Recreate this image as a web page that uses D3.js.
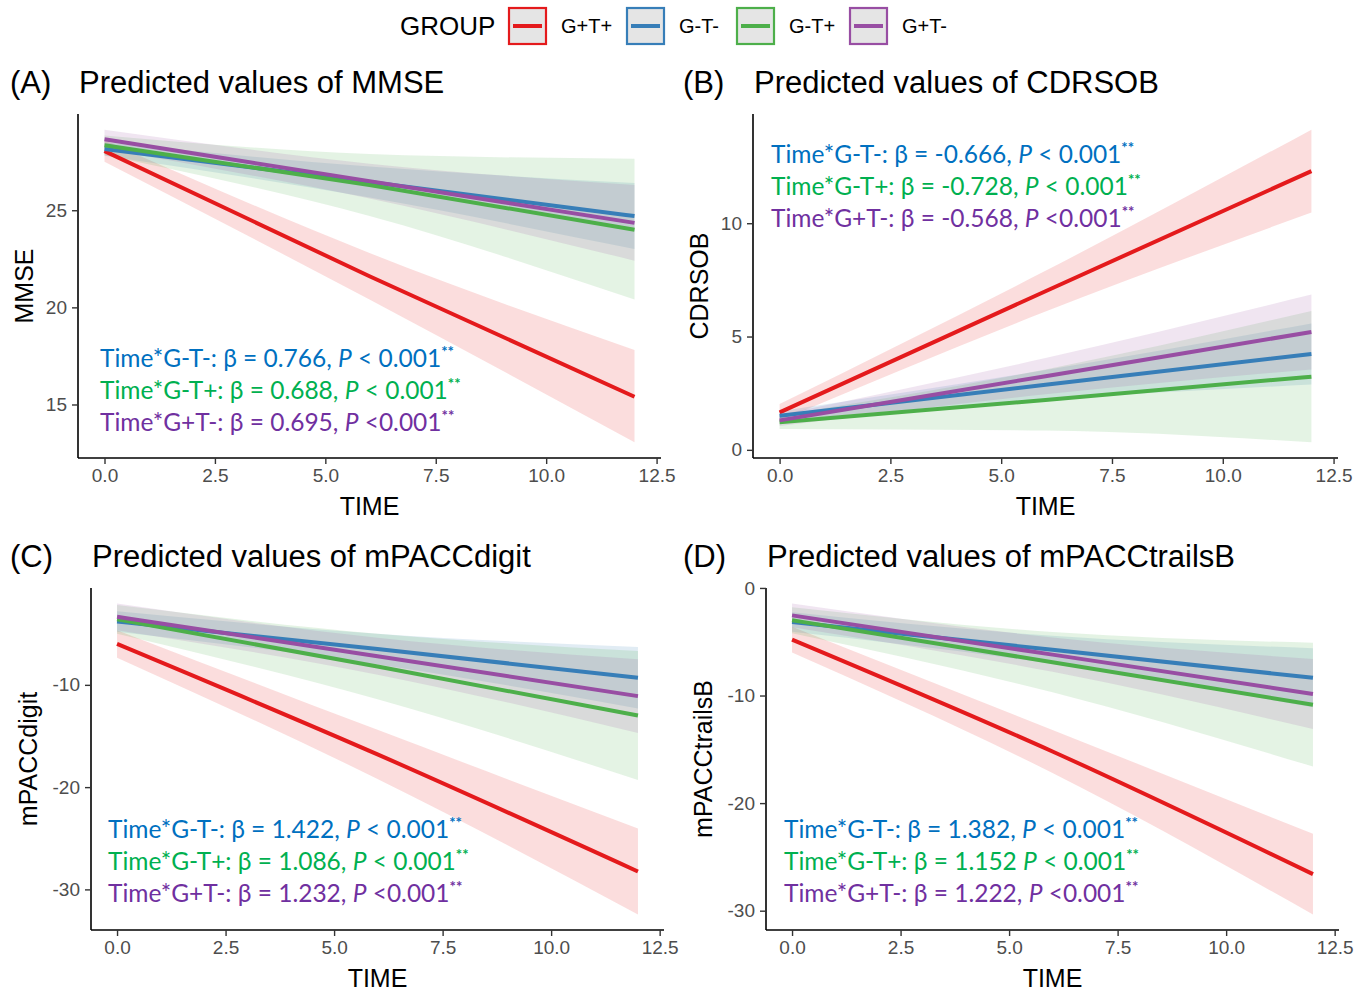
<!DOCTYPE html>
<html>
<head>
<meta charset="utf-8">
<script src="https://cdn.jsdelivr.net/npm/d3@7"></script>
<style>
  body { margin: 0; background: #fff; }
  svg { display: block; font-family: 'Liberation Sans', Arial, sans-serif; }
  .tick text { font-size: 19px; fill: #4d4d4d; }
  .note { font-family: Lato, 'Open Sans', sans-serif; font-size: 24.5px; }
</style>
</head>
<body>
<svg width="1367" height="992"></svg>
<script>
const groups = ['G+T+', 'G-T-', 'G-T+', 'G+T-']
const lineColors = ['#e41a1c', '#377eb8', '#4daf4a', '#984ea3']
const times = [0, 6, 12]
const xTicks = [0, 2.5, 5, 7.5, 10, 12.5]

// MMSE (rows follow groups, columns follow times)
const mmseFit = [[28.05, 21.6, 15.4], [28.15, 26.45, 24.7], [28.35, 26.3, 24.0], [28.65, 26.5, 24.35]]
const mmseLow = [[27.5, 20.4, 13.05], [27.8, 25.65, 23.0], [27.85, 24.7, 20.4], [28.15, 25.6, 22.4]]
const mmseHigh = [[28.6, 22.8, 17.8], [28.5, 27.25, 26.4], [28.85, 27.9, 27.65], [29.15, 27.4, 26.3]]
const mmseTicks = [15, 20, 25]

// CDRSOB
const cdrFit = [[1.65, 7.0, 12.3], [1.5, 2.87, 4.23], [1.22, 2.2, 3.23], [1.3, 3.25, 5.2]]
const cdrLow = [[1.28, 6.1, 10.47], [1.3, 2.22, 2.88], [0.92, 0.85, 0.33], [1.05, 2.45, 3.55]]
const cdrHigh = [[2.02, 7.9, 14.13], [1.7, 3.52, 5.58], [1.52, 3.55, 6.13], [1.55, 4.05, 6.85]]
const cdrTicks = [0, 5, 10]

// mPACCdigit
const digitFit = [[-6.0, -16.8, -28.25], [-3.8, -6.5, -9.3], [-3.6, -8.2, -13.0], [-3.35, -7.2, -11.1]]
const digitLow = [[-7.35, -19.2, -32.45], [-4.8, -8.0, -12.3], [-5.0, -11.4, -19.3], [-4.65, -9.0, -14.7]]
const digitHigh = [[-4.65, -14.4, -24.05], [-2.8, -5.0, -6.3], [-2.2, -5.0, -6.7], [-2.05, -5.4, -7.5]]
const digitTicks = [-30, -20, -10]

// mPACCtrailsB
const trailsFit = [[-4.8, -15.2, -26.6], [-3.17, -5.75, -8.35], [-3.0, -6.9, -10.85], [-2.55, -6.2, -9.85]]
const trailsLow = [[-6.0, -17.2, -30.35], [-4.07, -7.05, -11.1], [-4.2, -9.7, -16.6], [-3.65, -7.8, -13.1]]
const trailsHigh = [[-3.6, -13.2, -22.85], [-2.27, -4.45, -5.6], [-1.8, -4.1, -5.1], [-1.45, -4.6, -6.6]]
const trailsTicks = [-30, -20, -10, 0]

// annotation texts
const noteGroups = ['G-T-', 'G-T+', 'G+T-']
const noteColors = ['#0070c0', '#00b050', '#7030a0']
const mmseBeta = ['0.766,', '0.688,', '0.695,']
const cdrBeta = ['-0.666,', '-0.728,', '-0.568,']
const digitBeta = ['1.422,', '1.086,', '1.232,']
const trailsBeta = ['1.382,', '1.152', '1.222,']
const pTexts = ['< 0.001', '< 0.001', '<0.001']

const panels = [
  { tag: '(A)', name: 'MMSE', fit: mmseFit, low: mmseLow, high: mmseHigh, ticks: mmseTicks, beta: mmseBeta,
    left: 78, right: 661, top: 114, bottom: 458, tagX: 10, titleY: 93, yTitleX: 33, noteX: 100, noteY: 367 },
  { tag: '(B)', name: 'CDRSOB', fit: cdrFit, low: cdrLow, high: cdrHigh, ticks: cdrTicks, beta: cdrBeta,
    left: 753, right: 1338, top: 114, bottom: 458, tagX: 683, titleY: 93, yTitleX: 708, noteX: 771, noteY: 163 },
  { tag: '(C)', name: 'mPACCdigit', fit: digitFit, low: digitLow, high: digitHigh, ticks: digitTicks, beta: digitBeta,
    left: 91, right: 664, top: 588, bottom: 930, tagX: 10, titleY: 567, yTitleX: 37, noteX: 108, noteY: 838 },
  { tag: '(D)', name: 'mPACCtrailsB', fit: trailsFit, low: trailsLow, high: trailsHigh, ticks: trailsTicks, beta: trailsBeta,
    left: 766, right: 1339, top: 588, bottom: 930, tagX: 683, titleY: 567, yTitleX: 712, noteX: 784, noteY: 838 }
]

const svg = d3.select('svg')

// legend
const legend = svg.append('g')
legend.append('text')
  .attr('x', 400).attr('y', 35)
  .style('font-size', '26px')
  .text('GROUP')
const keyX = [509, 627, 737, 850]
groups.forEach((g, i) => {
  legend.append('rect')
    .attr('x', keyX[i]).attr('y', 8)
    .attr('width', 37).attr('height', 36)
    .attr('fill', '#e5e5e5')
    .attr('stroke', lineColors[i])
    .attr('stroke-width', 2.2)
  legend.append('line')
    .attr('x1', keyX[i] + 4).attr('x2', keyX[i] + 33)
    .attr('y1', 26).attr('y2', 26)
    .attr('stroke', lineColors[i])
    .attr('stroke-width', 4)
  legend.append('text')
    .attr('x', keyX[i] + 52).attr('y', 33)
    .style('font-size', '20px')
    .text(g)
})

panels.forEach(p => {
  const g = svg.append('g')

  const xScale = d3.scaleLinear()
    .domain([-0.6, 12.6])
    .range([p.left, p.right])

  // ggplot style 5% expansion of the data range
  const yMin = d3.min(p.low.flat())
  const yMax = d3.max(p.high.flat())
  const pad = (yMax - yMin) * 0.05
  const yScale = d3.scaleLinear()
    .domain([yMin - pad, yMax + pad])
    .range([p.bottom, p.top])

  const area = d3.area()
    .x((d, i) => xScale(times[i]))
    .y0(d => yScale(d[0]))
    .y1(d => yScale(d[1]))
    .curve(d3.curveMonotoneX)

  const line = d3.line()
    .x((d, i) => xScale(times[i]))
    .y(d => yScale(d))
    .curve(d3.curveMonotoneX)

  // ribbons
  groups.forEach((grp, k) => {
    g.append('path')
      .datum(times.map((t, i) => [p.low[k][i], p.high[k][i]]))
      .attr('d', area)
      .attr('fill', lineColors[k])
      .attr('fill-opacity', 0.15)
  })

  // lines
  groups.forEach((grp, k) => {
    g.append('path')
      .datum(p.fit[k])
      .attr('d', line)
      .attr('fill', 'none')
      .attr('stroke', lineColors[k])
      .attr('stroke-width', 4)
  })

  // axes
  const xAxis = d3.axisBottom(xScale)
    .tickValues(xTicks)
    .tickFormat(d3.format('.1f'))
    .tickSize(6)
    .tickPadding(5)
  const yAxis = d3.axisLeft(yScale)
    .tickValues(p.ticks)
    .tickFormat(d => String(d))
    .tickSize(6)
    .tickPadding(5)

  const gx = g.append('g')
    .attr('transform', `translate(0,${p.bottom})`)
    .call(xAxis)
  const gy = g.append('g')
    .attr('transform', `translate(${p.left},0)`)
    .call(yAxis)

  ;[gx, gy].forEach(ax => {
    ax.select('.domain').attr('stroke', '#000').attr('stroke-width', 1.6)
    ax.selectAll('.tick line').attr('stroke', '#333').attr('stroke-width', 1.4)
    ax.selectAll('.tick text').attr('font-family', null).attr('font-size', null)
  })
  gx.select('.domain').attr('d', `M${p.left},0H${p.right}`)
  gy.select('.domain').attr('d', `M0,${p.top}V${p.bottom}`)

  // axis titles
  g.append('text')
    .attr('x', (p.left + p.right) / 2)
    .attr('y', p.bottom + 57)
    .attr('text-anchor', 'middle')
    .style('font-size', '25px')
    .text('TIME')

  g.append('text')
    .attr('transform', `translate(${p.yTitleX},${(p.top + p.bottom) / 2}) rotate(-90)`)
    .attr('text-anchor', 'middle')
    .style('font-size', '25px')
    .text(p.name)

  // panel tag and title
  g.append('text')
    .attr('x', p.tagX)
    .attr('y', p.titleY)
    .style('font-size', '31px')
    .text(p.tag)
  g.append('text')
    .attr('x', p.left + 1)
    .attr('y', p.titleY)
    .style('font-size', '31px')
    .text('Predicted values of ' + p.name)

  // model annotations
  noteGroups.forEach((ng, i) => {
    const t = g.append('text')
      .attr('class', 'note')
      .attr('x', p.noteX)
      .attr('y', p.noteY + i * 32)
      .attr('fill', noteColors[i])
    t.append('tspan').text(`Time*${ng}: β = ${p.beta[i]} `)
    t.append('tspan').attr('font-style', 'italic').text('P')
    t.append('tspan').text(' ' + pTexts[i])
    t.append('tspan')
      .attr('dy', -10)
      .attr('font-size', '15px')
      .attr('font-weight', 'bold')
      .text('**')
  })
})
</script>
</body>
</html>
